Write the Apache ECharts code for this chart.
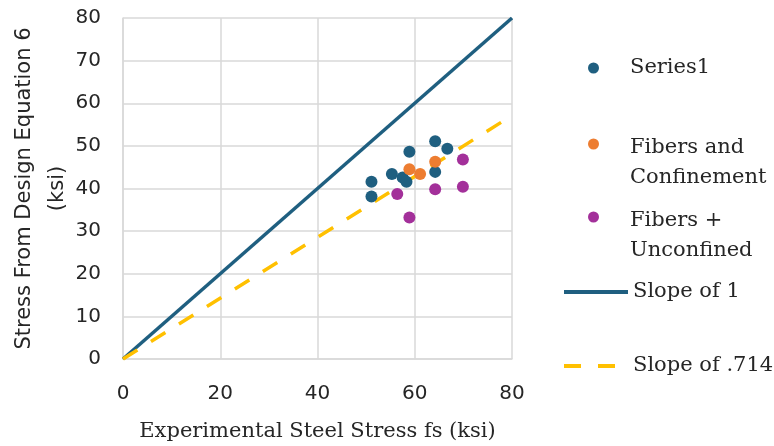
<!DOCTYPE html>
<html>
<head>
<meta charset="utf-8">
<script src="https://cdn.jsdelivr.net/npm/echarts@6/dist/echarts.min.js"></script>
<style>
  html, body { margin: 0; padding: 0; background: #fff; }
  #chart { width: 774px; height: 446px; }
</style>
</head>
<body>
<div id="chart"></div>
<script>
// Measured steel stress (x) vs. stress from design equation 6 (y), in ksi
const series1 = [
  [51.1, 41.6], [51.1, 38.1], [55.3, 43.4], [57.5, 42.6], [58.3, 41.6],
  [58.9, 48.6], [64.2, 51.1], [64.2, 43.9], [66.7, 49.3]
];
const fibersConfined = [
  [58.9, 44.5], [61.1, 43.4], [64.2, 46.3]
];
const fibersUnconfined = [
  [56.4, 38.7], [58.9, 33.2], [64.2, 39.8], [69.9, 46.8], [69.9, 40.4]
];
// Reference lines
const slopeOneX = [0, 80];
const slopeOneY = [0, 80];
const slope714X = [0, 80];
const slope714Y = [0, 57.12];

const seriesNames = ['Series1', 'Fibers and Confinement', 'Fibers + Unconfined', 'Slope of 1', 'Slope of .714'];
const legendLines = {
  'Fibers and Confinement': ['Fibers and', 'Confinement'],
  'Fibers + Unconfined': ['Fibers +', 'Unconfined']
};
const axisTicks = [0, 10, 20, 30, 40, 50, 60, 70, 80];

const colors = {
  blue: '#1f5f80',
  orange: '#ed7d31',
  purple: '#a3309a',
  yellow: '#ffc000',
  grid: '#d9d9d9',
  text: '#262626'
};

const serif = 'DejaVu Serif';
const sans = 'DejaVu Sans';
const dashPattern = [17, 16];

function pairs(xs, ys) { return xs.map((x, i) => [x, ys[i]]); }

// One legend block per entry so each can sit at its own height
function legendAt(name, top, kind, iconWidth) {
  const isLine = kind === 'line';
  const twoLine = kind === 'two';
  const legend = {
    data: [name],
    left: isLine ? 562 : 588,
    top: top,
    padding: 0,
    orient: 'vertical',
    itemWidth: isLine ? iconWidth : 11,
    itemHeight: isLine ? 4 : 11,
    itemGap: 0,
    textStyle: {
      fontFamily: serif, fontSize: 21, color: colors.text, lineHeight: 30,
      padding: [0, 0, 0, isLine ? 64 - iconWidth : 26],
      rich: {
        s: { fontSize: 1, lineHeight: 38 },
        t: { fontFamily: serif, fontSize: 21, color: colors.text, lineHeight: 30, padding: [0, 0, 0, 26] }
      }
    },
    selectedMode: false
  };
  if (isLine) {
    legend.itemStyle = { opacity: 0 };
    legend.lineStyle = { width: 4, type: iconWidth < 60 ? [17, 17] : 'solid' };
  }
  if (twoLine) {
    legend.textStyle.padding = 0;
    legend.formatter = n => '{s| }\n' + legendLines[n].map(l => '{t|' + l + '}').join('\n');
  }
  return legend;
}

const chart = echarts.init(document.getElementById('chart'), null, { renderer: 'canvas' });
chart.setOption({
  animation: false,
  grid: { left: 123, right: 262, top: 18, bottom: 87, containLabel: false, outerBoundsMode: 'none' },
  legend: [
    legendAt(seriesNames[0], 53, 'dot'),
    legendAt(seriesNames[1], 95, 'two'),
    legendAt(seriesNames[2], 168, 'two'),
    legendAt(seriesNames[3], 277, 'line', 64),
    legendAt(seriesNames[4], 351, 'line', 53)
  ],
  xAxis: {
    type: 'value', min: 0, max: 80, interval: 20,
    name: 'Experimental Steel Stress fs (ksi)',
    nameLocation: 'middle', nameGap: 62, nameMoveOverlap: false,
    nameTextStyle: { fontFamily: serif, fontSize: 21, color: colors.text },
    axisLine: { show: true, lineStyle: { color: colors.grid, width: 1.5 } },
    axisTick: { show: false },
    axisLabel: { fontFamily: sans, fontSize: 20, color: colors.text, margin: 25 },
    splitLine: { show: true, lineStyle: { color: colors.grid, width: 1.5 } }
  },
  yAxis: {
    type: 'value', min: axisTicks[0], max: axisTicks[axisTicks.length - 1], interval: 10,
    name: 'Stress From Design Equation 6\n(ksi)',
    nameLocation: 'middle', nameGap: 49, nameRotate: 90, nameMoveOverlap: false,
    nameTextStyle: { fontFamily: sans, fontSize: 21, color: colors.text, lineHeight: 33 },
    axisLine: { show: true, lineStyle: { color: colors.grid, width: 1.5 } },
    axisTick: { show: false },
    axisLabel: { fontFamily: sans, fontSize: 20, color: colors.text, margin: 22 },
    splitLine: { show: true, lineStyle: { color: colors.grid, width: 1.5 } }
  },
  series: [
    {
      name: seriesNames[3], type: 'line', data: pairs(slopeOneX, slopeOneY),
      showSymbol: false, symbol: 'none', z: 2,
      lineStyle: { color: colors.blue, width: 3.5 }, itemStyle: { color: colors.blue }
    },
    {
      name: seriesNames[4], type: 'line', data: pairs(slope714X, slope714Y),
      showSymbol: false, symbol: 'none', z: 2,
      lineStyle: { color: colors.yellow, width: 3.5, type: dashPattern }, itemStyle: { color: colors.yellow }
    },
    {
      name: seriesNames[0], type: 'scatter', data: series1, symbolSize: 12, z: 3,
      itemStyle: { color: colors.blue, opacity: 1 }
    },
    {
      name: seriesNames[1], type: 'scatter', data: fibersConfined, symbolSize: 12, z: 4,
      itemStyle: { color: colors.orange, opacity: 1 }
    },
    {
      name: seriesNames[2], type: 'scatter', data: fibersUnconfined, symbolSize: 12, z: 4,
      itemStyle: { color: colors.purple, opacity: 1 }
    }
  ]
});
</script>
</body>
</html>
